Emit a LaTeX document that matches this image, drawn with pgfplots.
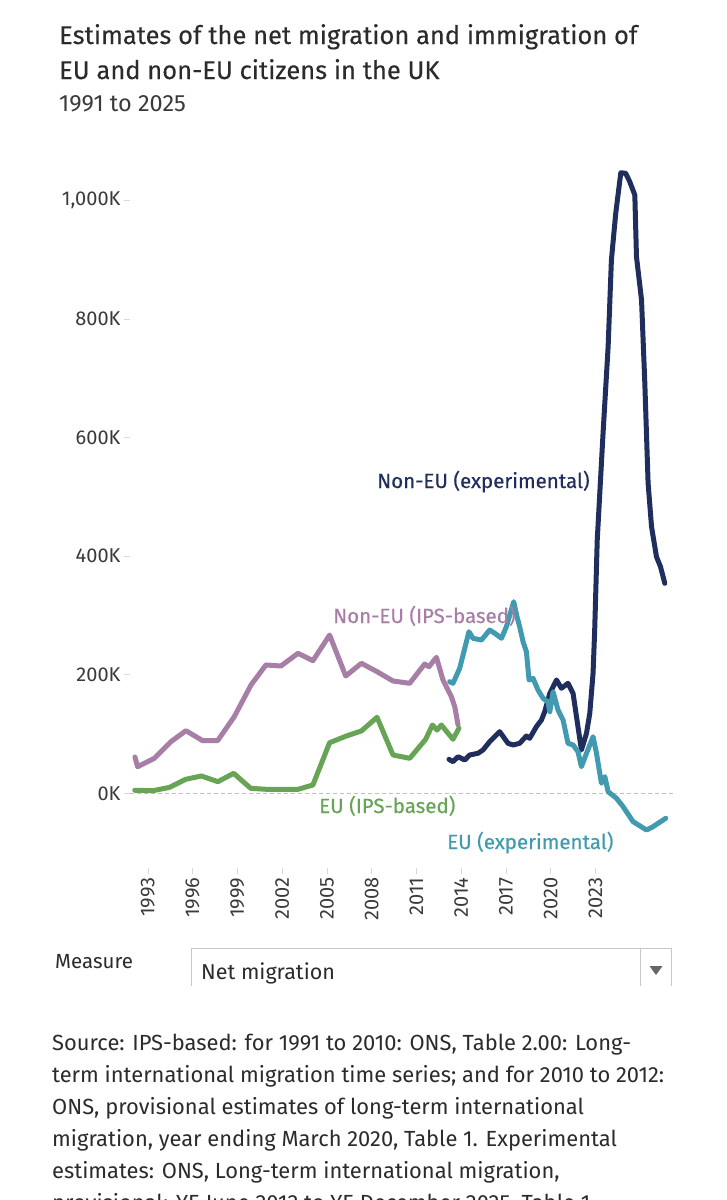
\documentclass[border=0pt]{standalone}
\usepackage{pgfplots}
\pgfplotsset{compat=1.18}
\usepackage{fontspec}
\setmainfont{Fira Sans}
\newfontfamily\labelfont{Fira Sans}[FakeBold=0.35]
\newfontfamily\titlefont{Fira Sans}[FakeBold=0.2]
\definecolor{navy}{HTML}{1F2E5C}
\definecolor{teal2}{HTML}{429AB0}
\definecolor{mauve}{HTML}{A77EA6}
\definecolor{green2}{HTML}{67A455}
\definecolor{ticktext}{HTML}{3A3A3A}
\definecolor{bodytext}{HTML}{2B2B2B}
\begin{document}
\begin{tikzpicture}
\path[use as bounding box, fill=white] (0pt,0pt) rectangle (727pt,-1200pt);
% title
\node[anchor=base west, inner sep=0, text=bodytext] at (59pt,-44pt) {\titlefont\fontsize{25.5}{28}\selectfont Estimates of the net migration and immigration of};
\node[anchor=base west, inner sep=0, text=bodytext] at (59pt,-79pt) {\titlefont\fontsize{25.5}{28}\selectfont EU and non-EU citizens in the UK};
\node[anchor=base west, inner sep=0, text=ticktext] at (59pt,-111pt) {\fontsize{23.5}{24}\selectfont 1991 to 2025};
\begin{axis}[
  at={(130pt,-868pt)}, anchor=south west,
  width=546pt, height=708pt, scale only axis,
  xmin=1991.8, xmax=2028.4, ymin=-126, ymax=1068,
  axis line style={draw=none},
  xtick={1993,1996,1999,2002,2005,2008,2011,2014,2017,2020,2023},
  xticklabels={1993,1996,1999,2002,2005,2008,2011,2014,2017,2020,2023},
  ytick={0,200,400,600,800,1000},
  yticklabels={0K,200K,400K,600K,800K,{1,000K}},
  xtick pos=bottom, ytick pos=left,
  tick align=outside, major tick length=6pt,
  tick style={color=black!15, line width=0.8pt},
  ticklabel style={font=\fontsize{20}{22}\selectfont, text=ticktext},
  xticklabel style={rotate=90, anchor=east},
  grid=none,
]
\addplot[black!25, line width=1pt, dash pattern=on 4pt off 3pt] coordinates {(1991.8,0) (2028.4,0)};
% Non-EU (IPS-based)
\addplot[mauve, line width=5pt, line join=round, line cap=round] coordinates {
(1992.13,61.2) (1992.31,44.9) (1993.43,59.0) (1994.54,87.0) (1995.55,105.6) (1996.67,88.7) (1997.67,88.7)
(1998.79,129.2) (1999.91,182.6) (2000.91,216.4) (2001.92,214.7) (2003.06,236.1) (2004.06,223.6)
(2005.18,266.9) (2006.26,197.8) (2007.31,219.2) (2008.36,205.1) (2009.43,189.4) (2010.55,185.5)
(2011.55,218.0) (2011.84,213.5) (2012.34,229.3) (2012.78,191.1) (2013.34,162.9) (2013.57,146.0) (2013.79,115.2)
};
% EU (IPS-based)
\addplot[green2, line width=5pt, line join=round, line cap=round] coordinates {
(1992.12,5.1) (1993.34,4.4) (1994.46,10.1) (1995.53,23.6) (1996.58,29.2) (1997.69,19.6) (1998.75,33.7)
(1999.89,8.4) (2000.94,6.7) (2002.05,6.7) (2003.06,6.7) (2004.06,14.0) (2005.18,85.3) (2006.30,96.6)
(2007.31,105.1) (2008.36,128.2) (2009.43,64.6) (2010.55,59.0) (2011.62,91.1) (2012.07,115.2)
(2012.38,106.7) (2012.67,115.2) (2013.45,91.1) (2013.85,109.6)
};
% Non-EU (experimental)
\addplot[navy, line width=5pt, line join=round, line cap=round] coordinates {
(2013.18,57.3) (2013.45,53.3) (2013.79,61.7) (2014.24,56.2) (2014.57,64.6) (2015.13,67.5) (2015.46,73.0)
(2015.91,87.0) (2016.58,103.9) (2017.14,84.3) (2017.48,81.5) (2017.92,84.3) (2018.37,96.6) (2018.59,92.7)
(2019.04,112.3) (2019.38,123.6) (2019.60,137.6) (2019.94,168.6) (2020.39,191.1) (2020.72,177.1)
(2021.16,185.5) (2021.50,168.6) (2021.73,129.2) (2022.06,73.0) (2022.40,101.2) (2022.62,134.9)
(2022.84,202.4) (2022.95,275.4) (2023.12,427.0) (2023.51,607.1) (2023.85,753.1) (2024.07,899.3)
(2024.36,978.1) (2024.70,1046.5) (2025.03,1045.5) (2025.30,1031.4) (2025.64,1008.9) (2025.75,904.9)
(2026.09,831.9) (2026.31,691.4) (2026.53,522.8) (2026.76,449.6) (2027.09,399.0) (2027.36,382.1) (2027.65,354.1)
};
% EU (experimental)
\addplot[teal2, line width=5pt, line join=round, line cap=round] coordinates {
(2013.23,188.2) (2013.45,185.5) (2013.90,210.8) (2014.52,272.5) (2014.79,261.4) (2015.36,258.5)
(2015.91,275.4) (2016.25,269.8) (2016.70,261.4) (2017.03,280.9) (2017.52,323.1) (2017.74,297.8)
(2017.92,280.9) (2018.15,255.6) (2018.37,238.8) (2018.55,191.1) (2018.82,193.9) (2019.15,174.2)
(2019.49,160.2) (2019.82,154.0) (2019.94,137.6) (2020.16,171.3) (2020.49,140.5) (2020.83,123.6)
(2021.16,84.3) (2021.50,81.5) (2021.83,70.2) (2022.06,44.9) (2022.40,67.5) (2022.84,95.4)
(2023.07,67.5) (2023.40,16.9) (2023.63,28.0) (2023.85,2.7) (2024.41,-8.4) (2024.85,-22.4)
(2025.52,-47.7) (2026.42,-61.9) (2026.86,-56.3) (2027.71,-42.2)
};
\end{axis}
% series labels
\begin{scope}[every node/.style={anchor=base west, inner sep=0, font=\labelfont\fontsize{20.5}{22}\selectfont}]
\node[text=navy] at (377pt,-488pt) {Non-EU (experimental)};
\node[text=mauve] at (333pt,-623pt) {Non-EU (IPS-based)};
\node[text=green2] at (319pt,-813pt) {EU (IPS-based)};
\node[text=teal2] at (447pt,-849pt) {EU (experimental)};
\end{scope}
% measure control
\node[anchor=base west, inner sep=0, text=bodytext] at (55pt,-968pt) {\fontsize{20.5}{22}\selectfont Measure};
\draw[black!22, line width=1pt] (191pt,-986pt) -- (191pt,-948pt) -- (671pt,-948pt) -- (671pt,-986pt);
\draw[black!22, line width=1pt] (640pt,-948pt) -- (640pt,-986pt);
\fill[black!60] (649.5pt,-966pt) -- (662.5pt,-966pt) -- (656pt,-975pt) -- cycle;
\node[anchor=base west, inner sep=0, text=bodytext] at (201pt,-979pt) {\fontsize{21.5}{22}\selectfont Net migration};
% source
\begin{scope}[every node/.style={anchor=base west, inner sep=0, text=bodytext, font=\fontsize{21.9}{22}\selectfont}]
\node at (52pt,-1050pt) {Source: IPS-based: for 1991 to 2010: ONS, Table 2.00: Long-};
\node at (52pt,-1082pt) {term international migration time series; and for 2010 to 2012:};
\node at (52pt,-1114pt) {ONS, provisional estimates of long-term international};
\node at (52pt,-1146pt) {migration, year ending March 2020, Table 1. Experimental};
\node at (52pt,-1178pt) {estimates: ONS, Long-term international migration,};
\node at (52pt,-1210pt) {provisional: YE June 2012 to YE December 2025, Table 1.};
\end{scope}
\end{tikzpicture}
\end{document}
